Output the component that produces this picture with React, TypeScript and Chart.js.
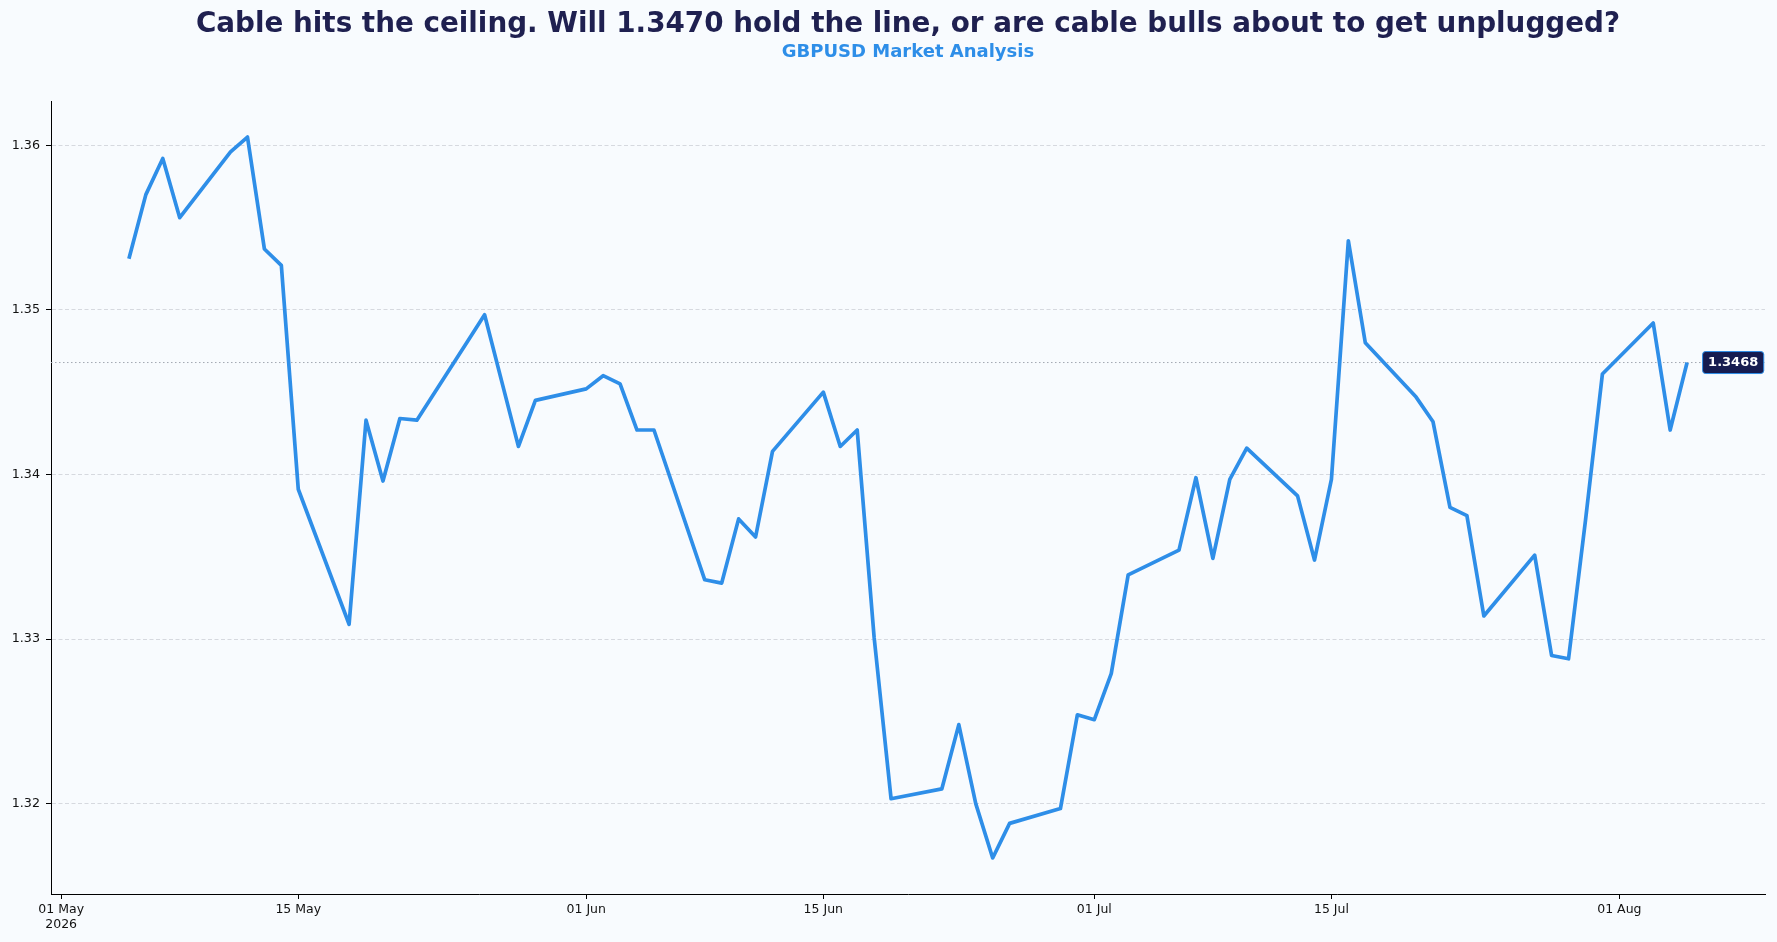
import React, { useEffect, useRef } from 'react';
import { Chart, registerables } from 'chart.js';

Chart.register(...registerables);

// GBPUSD daily closes
const dates = [
  '2026-05-05', '2026-05-06', '2026-05-07', '2026-05-08',
  '2026-05-11', '2026-05-12', '2026-05-13', '2026-05-14', '2026-05-15',
  '2026-05-18', '2026-05-19', '2026-05-20', '2026-05-21', '2026-05-22',
  '2026-05-25', '2026-05-26', '2026-05-27', '2026-05-28', '2026-05-29',
  '2026-06-01', '2026-06-02', '2026-06-03', '2026-06-04', '2026-06-05',
  '2026-06-08', '2026-06-09', '2026-06-10', '2026-06-11', '2026-06-12',
  '2026-06-15', '2026-06-16', '2026-06-17', '2026-06-18', '2026-06-19',
  '2026-06-22', '2026-06-23', '2026-06-24', '2026-06-25', '2026-06-26',
  '2026-06-29', '2026-06-30', '2026-07-01', '2026-07-02', '2026-07-03',
  '2026-07-06', '2026-07-07', '2026-07-08', '2026-07-09', '2026-07-10',
  '2026-07-13', '2026-07-14', '2026-07-15', '2026-07-16', '2026-07-17',
  '2026-07-20', '2026-07-21', '2026-07-22', '2026-07-23', '2026-07-24',
  '2026-07-27', '2026-07-28', '2026-07-29', '2026-07-30', '2026-07-31',
  '2026-08-03', '2026-08-04', '2026-08-05',
];

const closes = [
  1.3531, 1.3570, 1.3592, 1.3556,
  1.3596, 1.3605, 1.3537, 1.3527, 1.3391,
  1.3309, 1.3433, 1.3396, 1.3434, 1.3433,
  1.3481, 1.3497, 1.3457, 1.3417, 1.3445,
  1.3452, 1.3460, 1.3455, 1.3427, 1.3427,
  1.3336, 1.3334, 1.3373, 1.3362, 1.3414,
  1.3450, 1.3417, 1.3427, 1.3301, 1.3203,
  1.3209, 1.3248, 1.3200, 1.3167, 1.3188,
  1.3197, 1.3254, 1.3251, 1.3279, 1.3339,
  1.3354, 1.3398, 1.3349, 1.3397, 1.3416,
  1.3387, 1.3348, 1.3397, 1.3542, 1.3480,
  1.3447, 1.3432, 1.3380, 1.3375, 1.3314,
  1.3351, 1.3290, 1.3288, 1.3372, 1.3461,
  1.3492, 1.3427, 1.3468,
];

const xTickDates = ['2026-05-01', '2026-05-15', '2026-06-01', '2026-06-15', '2026-07-01', '2026-07-15', '2026-08-01'];
const xTickLabels: (string | string[])[] = [['01 May', '2026'], '15 May', '01 Jun', '15 Jun', '01 Jul', '15 Jul', '01 Aug'];
const yTicks = [1.32, 1.33, 1.34, 1.35, 1.36];

const title = 'Cable hits the ceiling. Will 1.3470 hold the line, or are cable bulls about to get unplugged?';
const subtitle = 'GBPUSD Market Analysis';

const BG = '#f8fbfe';
const LINE = '#2e8ee8';
const NAVY = '#1f2050';
const FONT = '"DejaVu Sans", sans-serif';

const ORIGIN = Date.UTC(2026, 4, 1);
const toDay = (d: string) => (Date.parse(d + 'T00:00:00Z') - ORIGIN) / 86400000;

const App = () => {
  const canvasRef = useRef<HTMLCanvasElement>(null);

  useEffect(() => {
    const ctx: any = canvasRef.current && canvasRef.current.getContext('2d');
    if (!ctx) return;

    const points = dates.map((d, i) => ({ x: toDay(d), y: closes[i] }));
    const lastClose = closes[closes.length - 1];

    // matplotlib-like 5% margins
    const xs = points.map(p => p.x);
    const xMin = Math.min(...xs), xMax = Math.max(...xs);
    const yMin = Math.min(...closes), yMax = Math.max(...closes);
    const xPad = (xMax - xMin) * 0.05;
    const yPad = (yMax - yMin) * 0.05;

    const xTickValues = xTickDates.map(toDay);

    const bgPlugin = {
      id: 'bg',
      beforeDraw(chart: any) {
        const c = chart.ctx;
        c.save();
        c.fillStyle = BG;
        c.fillRect(0, 0, chart.width, chart.height);
        c.restore();
      },
    };

    const headerPlugin = {
      id: 'header',
      afterDraw(chart: any) {
        const { ctx: c, chartArea } = chart;
        const cx = (chartArea.left + chartArea.right) / 2;
        c.save();
        c.textAlign = 'center';
        c.textBaseline = 'middle';
        c.fillStyle = NAVY;
        c.font = 'bold 27.8px ' + FONT;
        c.fillText(title, cx, 25);
        c.fillStyle = LINE;
        c.font = 'bold 18px ' + FONT;
        c.fillText(subtitle, cx, 52);
        c.restore();
      },
    };

    const lastValuePlugin = {
      id: 'lastValue',
      beforeDatasetsDraw(chart: any) {
        const { ctx: c, chartArea, scales } = chart;
        const py = scales.y.getPixelForValue(lastClose);
        c.save();
        c.strokeStyle = '#a3a8b2';
        c.lineWidth = 1;
        c.setLineDash([1.5, 2.5]);
        c.beginPath();
        c.moveTo(chartArea.left, py);
        c.lineTo(chartArea.right, py);
        c.stroke();
        c.restore();
      },
      afterDatasetsDraw(chart: any) {
        const c = chart.ctx;
        const meta = chart.getDatasetMeta(0);
        const pt = meta.data[meta.data.length - 1];
        const text = lastClose.toFixed(4);
        c.save();
        c.font = 'bold 13px ' + FONT;
        const w = c.measureText(text).width + 11;
        const h = 22;
        const bx = pt.x + 15.5;
        const by = pt.y - h / 2;
        c.beginPath();
        c.roundRect(bx, by, w, h, 3);
        c.fillStyle = '#161c50';
        c.fill();
        c.lineWidth = 1;
        c.strokeStyle = LINE;
        c.stroke();
        c.fillStyle = '#ffffff';
        c.textAlign = 'center';
        c.textBaseline = 'middle';
        c.fillText(text, bx + w / 2, pt.y + 0.5);
        c.restore();
      },
    };

    const config: any = {
      type: 'line',
      data: {
        datasets: [
          {
            label: 'GBPUSD',
            data: points,
            borderColor: LINE,
            borderWidth: 3.7,
            pointRadius: 0,
            tension: 0,
            borderJoinStyle: 'round',
            borderCapStyle: 'butt',
          },
        ],
      },
      options: {
        responsive: false,
        animation: false,
        events: [],
        layout: { padding: { top: 101, right: 12, left: 0, bottom: 0 } },
        plugins: {
          legend: { display: false },
          tooltip: { enabled: false },
          title: { display: false },
        },
        scales: {
          x: {
            type: 'linear',
            min: xMin - xPad,
            max: xMax + xPad,
            afterBuildTicks: (scale: any) => {
              scale.ticks = xTickValues.map(v => ({ value: v }));
            },
            afterFit: (scale: any) => {
              scale.height = 48;
            },
            ticks: {
              autoSkip: false,
              maxRotation: 0,
              padding: 3,
              color: '#111',
              font: { family: FONT, size: 12.5, lineHeight: 1.22 },
              callback: (v: number) => {
                const i = xTickValues.indexOf(v);
                return i >= 0 ? xTickLabels[i] : '';
              },
            },
            grid: {
              drawOnChartArea: false,
              drawTicks: true,
              tickLength: 5,
              tickColor: '#000',
              tickWidth: 1,
            },
            border: { display: true, color: '#000', width: 1 },
          },
          y: {
            type: 'linear',
            min: yMin - yPad,
            max: yMax + yPad,
            afterBuildTicks: (scale: any) => {
              scale.ticks = yTicks.map(v => ({ value: v }));
            },
            afterFit: (scale: any) => {
              scale.width = 51;
            },
            ticks: {
              padding: 6,
              color: '#111',
              font: { family: FONT, size: 12.7 },
              callback: (v: number) => v.toFixed(2),
            },
            grid: {
              color: '#d6d9df',
              lineWidth: 1,
              drawTicks: true,
              tickLength: 5,
              tickColor: '#000',
              tickWidth: 1,
            },
            border: { display: true, color: '#000', width: 1, dash: [4, 2.5] },
          },
        },
      },
      plugins: [bgPlugin, lastValuePlugin, headerPlugin],
    };

    const chart = new Chart(ctx, config);
    return () => {
      chart.destroy();
    };
  }, []);

  return (
    <div style={{ position: 'fixed', left: 0, top: 0, width: '1777px', height: '942px', background: BG }}>
      <canvas ref={canvasRef} width={1777} height={942} style={{ width: '1777px', height: '942px', display: 'block' }} />
    </div>
  );
};

export default App;
